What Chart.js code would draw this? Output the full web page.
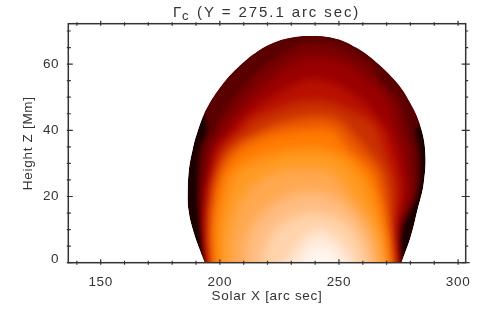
<!DOCTYPE html>
<html>
<head>
<meta charset="utf-8">
<title>Gamma c</title>
<script src="https://cdn.jsdelivr.net/npm/chart.js@4/dist/chart.umd.min.js"></script>
<style>
  html, body { margin: 0; padding: 0; background: #fff; }
  canvas { display: block; }
</style>
</head>
<body>
<canvas id="chart" width="480" height="311"></canvas>
<script>
// axis ticks
const xLabels = [150, 200, 250, 300];
const xMinor = [140, 150, 160, 170, 180, 190, 200, 210, 220, 230, 240, 250, 260, 270, 280, 290, 300];
const zLabels = [0, 20, 40, 60];
const zMinor = [0, 5, 10, 15, 20, 25, 30, 35, 40, 45, 50, 55, 60, 65, 70];

// loop outline, [solar x, height z]
const outline = [[193.7,0],[191.6,3.8],[188.7,9.9],[186.8,16],[186.5,21],[187,28],[188.5,34],[190.3,38.9],[194.4,46.4],[201.3,54],[208.4,59.5],[215.4,63.6],[222.2,66.3],[229.4,67.9],[239,68.5],[249,67.6],[257.3,64.9],[265.7,60.5],[274.1,54.5],[279.7,48.5],[283.9,41.9],[286.2,34],[285.6,24],[283,16],[280.1,7.8],[276.2,0]];

// brightness contours, darkest to lightest
const bandB = [[194.4,-3],[192.1,10],[190.8,21],[191.6,34],[194.6,40],[193,46],[190,52],[205,70],[240,76],[275,70],[292,50],[284.5,42],[282.2,40],[283.9,34],[283,21],[276.3,10],[275.6,-3]];
const bandC = [[194.8,-3],[192.9,10],[192.1,21],[193.3,28],[194.1,34],[198,40],[201,44.5],[211.2,54],[222,61],[240,66.5],[262,60.5],[268,54],[274.5,50],[277.6,44],[278.8,40],[281.3,34],[281.8,28],[281.3,21],[275.1,10],[275.5,-3]];
const bandD = [[195.4,-3],[193.8,10],[193.8,21],[195.4,28],[197,34],[201.7,40],[205.5,44],[218.9,54],[231.4,60.5],[240,62],[252.4,60.5],[263,55],[270,50],[273.4,44],[274.6,40],[277.6,34],[278.4,28],[279.3,21],[274.3,10],[274.9,-3]];
const bandE = [[196.1,-3],[194.4,10],[195,21],[196.7,28],[198.6,34],[205.9,40],[210.5,44],[225,51.5],[240.6,55.5],[258,50],[265.9,44],[270.4,40],[273.4,34],[275.5,28],[276.7,21],[273.4,10],[274.2,-3]];
const bandF = [[196.5,-3],[195,10],[195.9,21],[197.9,28],[200.9,34],[209.2,40],[215.5,44],[240,49],[260.8,44],[266.2,40],[269.2,34],[272.2,28],[273.8,21],[272.6,10],[273.6,-3]];
const bandG = [[197.1,-3],[195.8,10],[197.1,21],[199.6,28],[204.2,34],[217.5,40],[228,43],[241,44.5],[250,43],[254.5,40],[262,34],[268,28],[270.4,21],[271.3,10],[272.8,-3]];
const bandH = [[197.7,-3],[197.1,10],[198.8,21],[201.7,28],[208.4,34],[219,38],[231.4,40],[240,40.5],[247,40],[254.5,34],[263.7,28],[267,21],[270,10],[271.9,-3]];
const bandI = [[199.8,-3],[199.2,10],[202.1,21],[206.8,28],[222,33],[240,34.5],[250,32.5],[257.9,28],[263.7,21],[268,10],[270.6,-3]];
const bandJ = [[203,-3],[204.2,10],[210.5,21],[222,27],[238,28.5],[248,27],[254.5,21],[265,10],[269,-3]];
const bandK = [[209.4,-3],[212.6,10],[225,19],[240,21.5],[252,18],[260.8,10],[266.4,-3]];
const bandL = [[216.5,-3],[223,10],[240,15],[255.4,10],[263,-3]];
const bandM = [[225.6,-3],[233,5],[241,9.5],[250,6],[258,-3]];
const bandN = [[235.5,-3],[238,3],[243,4],[247,3],[250.5,-3]];

// lightest first, the last dataset is drawn first
const layers = [bandN, bandM, bandL, bandK, bandJ, bandI, bandH, bandG, bandF, bandE, bandD, bandC, bandB, outline];
const layerColors = ["#fff8f2", "#ffeadc", "#ffd4ac", "#ffbc80", "#ffa850", "#ff9a20", "#ff7a00", "#e85800", "#c83000", "#b81000", "#9a0000", "#7a0000", "#5a0000", "#1c0000"];
const layerBlur = [6, 6, 6, 6, 6, 6, 5, 5, 4, 4, 4, 3, 2, 0];

const loopPlugin = {
  id: "loop",
  beforeDatasetsDraw(chart) {
    const ctx = chart.ctx;
    const edge = chart.getDatasetMeta(layers.length - 1).dataset;
    ctx.save();
    ctx.beginPath();
    edge.path(ctx);
    ctx.closePath();
    ctx.clip();
  },
  afterDatasetDraw(chart, args) {
    if (args.index > 0) chart.ctx.filter = `blur(${layerBlur[args.index - 1]}px)`;
  },
  afterDatasetsDraw(chart) {
    chart.ctx.restore();
  }
};

// IDL style frame: ticks on all four sides, crossing the axis
const framePlugin = {
  id: "frame",
  afterDatasetsDraw(chart) {
    const { ctx, chartArea: a, scales } = chart;
    ctx.save();
    ctx.strokeStyle = "#333";
    ctx.lineWidth = 1.2;
    ctx.beginPath();
    xMinor.forEach(v => {
      const p = scales.x.getPixelForValue(v), major = xLabels.includes(v);
      ctx.moveTo(p, a.bottom + 2); ctx.lineTo(p, a.bottom - (major ? 3.5 : 2));
      ctx.moveTo(p, a.top - (major ? 3 : 1.5)); ctx.lineTo(p, a.top + 2);
    });
    zMinor.forEach(v => {
      const p = scales.y.getPixelForValue(v), major = zLabels.includes(v);
      ctx.moveTo(a.left - 1.5, p); ctx.lineTo(a.left + (major ? 4.5 : 2.5), p);
      ctx.moveTo(a.right - (major ? 4 : 0), p); ctx.lineTo(a.right + (major ? 4 : 2.5), p);
    });
    ctx.stroke();
    ctx.lineWidth = 1.5;
    ctx.strokeRect(a.left, a.top, a.right - a.left, a.bottom - a.top);
    ctx.restore();
  }
};

const titlePlugin = {
  id: "gammaTitle",
  beforeDraw(chart) {
    chart.ctx.letterSpacing = "0.7px";
    const zero = chart.scales.y.getLabelItems().find(i => i.label === "0");
    if (zero) zero.textOffset -= 3;
  },
  afterDraw(chart) {
    const ctx = chart.ctx;
    ctx.save();
    ctx.fillStyle = "#333";
    ctx.textBaseline = "alphabetic";
    ctx.letterSpacing = "1.9px";
    ctx.font = "15px 'Liberation Sans'";
    ctx.fillText("Γ", 173, 17);
    ctx.font = "13px 'Liberation Sans'";
    ctx.fillText("c", 182, 20);
    ctx.font = "15px 'Liberation Sans'";
    ctx.fillText("(Y = 275.1 arc sec)", 197, 17);
    ctx.restore();
  }
};

new Chart(document.getElementById("chart"), {
  type: "scatter",
  data: {
    datasets: layers.map((band, i) => ({
      data: band.map(p => ({ x: p[0], y: p[1] })),
      showLine: true,
      tension: 0.4,
      fill: "shape",
      backgroundColor: layerColors[i],
      borderColor: "transparent",
      borderWidth: 0,
      pointRadius: 0
    }))
  },
  options: {
    responsive: false,
    animation: false,
    layout: { padding: { left: 0, top: 23.7, right: 14.3, bottom: 0 } },
    plugins: { legend: { display: false }, tooltip: { enabled: false }, title: { display: false } },
    events: [],
    scales: {
      x: {
        type: "linear", min: 136.4, max: 303.2,
        afterBuildTicks: s => { s.ticks = xLabels.map(v => ({ value: v })); },
        afterFit: s => { s.height = 48.3; },
        grid: { display: false }, border: { display: false },
        ticks: { color: "#333", padding: 3, maxRotation: 0, autoSkip: false, font: { family: "'Liberation Sans'", size: 13.5 } },
        title: { display: true, text: "Solar X [arc sec]", color: "#333", padding: { top: 0, bottom: 7 }, font: { family: "'Liberation Sans'", size: 13.5 } }
      },
      y: {
        type: "linear", min: 0, max: 72.2,
        afterBuildTicks: s => { s.ticks = zLabels.map(v => ({ value: v })); },
        afterFit: s => { s.width = 68.3; },
        grid: { display: false }, border: { display: false },
        ticks: { color: "#333", padding: 1, autoSkip: false, font: { family: "'Liberation Sans'", size: 13.5 } },
        title: { display: true, text: "Height Z [Mm]", color: "#333", padding: { top: 20, bottom: 0 }, font: { family: "'Liberation Sans'", size: 13.5 } }
      }
    }
  },
  plugins: [loopPlugin, framePlugin, titlePlugin]
});
</script>
</body>
</html>
